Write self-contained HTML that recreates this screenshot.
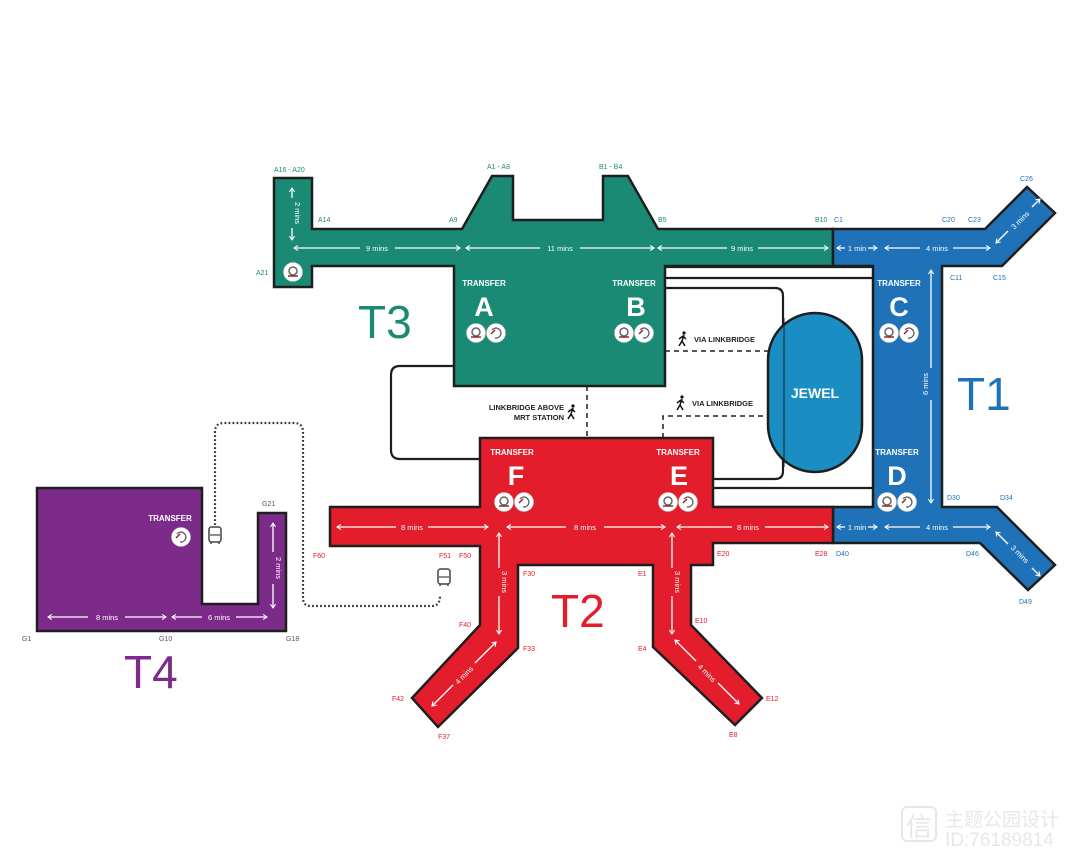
<!DOCTYPE html>
<html><head><meta charset="utf-8"><style>
html,body{margin:0;padding:0;background:#fff;}
svg{display:block;font-family:"Liberation Sans","Noto Sans CJK SC",sans-serif;}
.g{fill:#1a8a74}.r{fill:#e31d2b}.b{fill:#1f72b8}.p{fill:#7d2b8b}
.o{stroke:#1e1e1e;stroke-width:2.5;stroke-linejoin:miter}
.lg{fill:#1a8a74;font-size:7px}.lr{fill:#e31d2b;font-size:7px}.lb{fill:#1f72b8;font-size:7px}.lp{fill:#6a4a70;font-size:7px}
.m{fill:#fff;font-size:7.5px}
.a{stroke:#fff;stroke-width:1.3;fill:none;marker-start:url(#ah);marker-end:url(#ah)}
.tr{fill:#fff;font-size:8px;font-weight:bold}
.big{fill:#fff;font-size:27px;font-weight:bold}
.ic{fill:#fff;stroke:#ccc;stroke-width:.6}
</style></head><body>
<svg width="1080" height="857" viewBox="0 0 1080 857">
<defs>
<marker id="ah" viewBox="0 0 10 10" refX="8" refY="5" markerWidth="5" markerHeight="5" orient="auto-start-reverse"><path d="M2,1 L8,5 L2,9" fill="none" stroke="#fff" stroke-width="1.6"/></marker>
<g id="i1"><circle r="9.5" class="ic"/><circle r="4" cy="-1" fill="none" stroke="#666" stroke-width="1.5"/><path d="M-5,4 L5,4" stroke="#8a2a2a" stroke-width="1.5"/></g>
<g id="i2"><circle r="9.5" class="ic"/><path d="M-4,-3 A5,5 0 1 1 -1,5" fill="none" stroke="#666" stroke-width="1.4"/><path d="M-5,1 L-1,-3" stroke="#8a2a2a" stroke-width="1.5"/></g>
<g id="bus"><rect x="-6" y="-8" width="12" height="15" rx="2.5" fill="#fff" stroke="#444" stroke-width="1.5"/><line x1="-5" y1="0" x2="5" y2="0" stroke="#444" stroke-width="1.2"/><line x1="-4" y1="7" x2="-4" y2="9" stroke="#444" stroke-width="1.5"/><line x1="4" y1="7" x2="4" y2="9" stroke="#444" stroke-width="1.5"/></g>
<g id="walk"><circle cx="1" cy="-6" r="1.6" fill="#111"/><path d="M1,-4 L-1,2 L-4,7 M-1,2 L2,7 M0,-3 L-4,0 M0,-3 L3,0" stroke="#111" stroke-width="1.5" fill="none"/></g>
</defs>

<!-- connector lines -->
<g fill="none" stroke="#1e1e1e" stroke-width="2.2">
<path d="M665,267 H873 M665,278 H873 M713,488 H873 M713,507 H833"/>
<path d="M665,288 H775 Q783,288 783,296 V471 Q783,479 775,479 H713"/>
<path d="M454,366 H400 Q391,366 391,375 V450 Q391,459 400,459 H480"/>
</g>
<g fill="none" stroke="#1e1e1e" stroke-width="1.5" stroke-dasharray="5,4">
<path d="M665,351 H770 M663,438 V416 H770 M587,386 V438"/>
</g>
<path d="M215,525 V432 Q215,423 224,423 H294 Q303,423 303,432 V598 Q303,606 311,606 H432 Q440,606 440,596" fill="none" stroke="#333" stroke-width="2.2" stroke-dasharray="1.8,2.2"/>

<!-- T3 -->
<path class="g o" d="M274,178 H312 V229 H462 L492,176 H513 V220 H603 V176 H628 L658,229 H833 V266 H665 V386 H454 V266 H312 V287 H274 Z"/>
<!-- T1 -->
<path class="b o" d="M833,229 H985 L1027,187 L1055,213 L1002,266 H942 V507 H997 L1055,565 L1028,590 L980,543 H833 V507 H873 V266 H833 Z"/>
<!-- T2 -->
<path class="r o" d="M480,438 H713 V507 H833 V543 H713 V565 H691 V625 L762,698 L735,725 L653,647 V565 H518 V648 L438,727 L412,698 L480,625 V546 H330 V507 H480 Z"/>
<!-- T4 -->
<path class="p o" d="M37,488 H202 V604 H258 V513 H286 V631 H37 Z"/>
<!-- Jewel -->
<rect x="768" y="313" width="94" height="159" rx="47" fill="#1a8ec2" stroke="#1e1e1e" stroke-width="2.5"/>
<line x1="784" y1="318" x2="784" y2="467" stroke="#1e1e1e" stroke-width="1"/>
<text x="815" y="398" fill="#fff" font-size="14" font-weight="bold" text-anchor="middle">JEWEL</text>

<!-- big labels -->
<text x="358" y="338" fill="#1a8a74" font-size="46">T3</text>
<text x="957" y="410" fill="#1f72b8" font-size="46">T1</text>
<text x="551" y="627" fill="#e31d2b" font-size="46">T2</text>
<text x="124" y="688" fill="#7d2b8b" font-size="46">T4</text>

<!-- transfer blocks -->
<g text-anchor="middle">
<text class="tr" x="484" y="286">TRANSFER</text><text class="big" x="484" y="316">A</text>
<text class="tr" x="634" y="286">TRANSFER</text><text class="big" x="636" y="316">B</text>
<text class="tr" x="899" y="286">TRANSFER</text><text class="big" x="899" y="316">C</text>
<text class="tr" x="897" y="455">TRANSFER</text><text class="big" x="897" y="485">D</text>
<text class="tr" x="512" y="455">TRANSFER</text><text class="big" x="516" y="485">F</text>
<text class="tr" x="678" y="455">TRANSFER</text><text class="big" x="679" y="485">E</text>
<text class="tr" x="170" y="521">TRANSFER</text>
</g>
<use href="#i1" x="476" y="333"/><use href="#i2" x="496" y="333"/>
<use href="#i1" x="624" y="333"/><use href="#i2" x="644" y="333"/>
<use href="#i1" x="889" y="333"/><use href="#i2" x="909" y="333"/>
<use href="#i1" x="887" y="502"/><use href="#i2" x="907" y="502"/>
<use href="#i1" x="504" y="502"/><use href="#i2" x="524" y="502"/>
<use href="#i1" x="668" y="502"/><use href="#i2" x="688" y="502"/>
<use href="#i1" x="293" y="272"/>
<use href="#i2" x="181" y="537"/>
<use href="#bus" x="215" y="535"/><use href="#bus" x="444" y="577"/>

<!-- walk labels -->
<use href="#walk" x="683" y="339"/><text x="694" y="342" fill="#222" font-size="7.5" font-weight="bold">VIA LINKBRIDGE</text>
<use href="#walk" x="681" y="403"/><text x="692" y="406" fill="#222" font-size="7.5" font-weight="bold">VIA LINKBRIDGE</text>
<use href="#walk" x="572" y="412"/>
<text x="564" y="410" fill="#222" font-size="7.5" font-weight="bold" text-anchor="end">LINKBRIDGE ABOVE</text>
<text x="564" y="420" fill="#222" font-size="7.5" font-weight="bold" text-anchor="end">MRT STATION</text>

<!-- arrows -->
<g>
<line class="a" x1="294" y1="248" x2="360" y2="248" style="marker-end:none"/><line class="a" x1="395" y1="248" x2="460" y2="248" style="marker-start:none"/>
<line class="a" x1="466" y1="248" x2="540" y2="248" style="marker-end:none"/><line class="a" x1="580" y1="248" x2="654" y2="248" style="marker-start:none"/>
<line class="a" x1="658" y1="248" x2="727" y2="248" style="marker-end:none"/><line class="a" x1="758" y1="248" x2="828" y2="248" style="marker-start:none"/>
<line class="a" x1="837" y1="248" x2="845" y2="248" style="marker-end:none"/><line class="a" x1="868" y1="248" x2="877" y2="248" style="marker-start:none"/>
<line class="a" x1="885" y1="248" x2="920" y2="248" style="marker-end:none"/><line class="a" x1="953" y1="248" x2="990" y2="248" style="marker-start:none"/>
<line class="a" x1="337" y1="527" x2="396" y2="527" style="marker-end:none"/><line class="a" x1="428" y1="527" x2="488" y2="527" style="marker-start:none"/>
<line class="a" x1="507" y1="527" x2="566" y2="527" style="marker-end:none"/><line class="a" x1="604" y1="527" x2="665" y2="527" style="marker-start:none"/>
<line class="a" x1="677" y1="527" x2="732" y2="527" style="marker-end:none"/><line class="a" x1="765" y1="527" x2="828" y2="527" style="marker-start:none"/>
<line class="a" x1="837" y1="527" x2="845" y2="527" style="marker-end:none"/><line class="a" x1="868" y1="527" x2="877" y2="527" style="marker-start:none"/>
<line class="a" x1="885" y1="527" x2="920" y2="527" style="marker-end:none"/><line class="a" x1="953" y1="527" x2="990" y2="527" style="marker-start:none"/>
<line class="a" x1="48" y1="617" x2="88" y2="617" style="marker-end:none"/><line class="a" x1="125" y1="617" x2="166" y2="617" style="marker-start:none"/>
<line class="a" x1="172" y1="617" x2="202" y2="617" style="marker-end:none"/><line class="a" x1="236" y1="617" x2="267" y2="617" style="marker-start:none"/>
<line class="a" x1="292" y1="188" x2="292" y2="198" style="marker-end:none"/><line class="a" x1="292" y1="228" x2="292" y2="240" style="marker-start:none"/>
<line class="a" x1="931" y1="270" x2="931" y2="368" style="marker-end:none"/><line class="a" x1="931" y1="400" x2="931" y2="503" style="marker-start:none"/>
<line class="a" x1="499" y1="533" x2="499" y2="568" style="marker-end:none"/><line class="a" x1="499" y1="596" x2="499" y2="634" style="marker-start:none"/>
<line class="a" x1="672" y1="533" x2="672" y2="568" style="marker-end:none"/><line class="a" x1="672" y1="596" x2="672" y2="634" style="marker-start:none"/>
<line class="a" x1="273" y1="523" x2="273" y2="552" style="marker-end:none"/><line class="a" x1="273" y1="584" x2="273" y2="608" style="marker-start:none"/>
<line class="a" x1="996" y1="243" x2="1008" y2="231" style="marker-end:none"/><line class="a" x1="1032" y1="207" x2="1040" y2="199" style="marker-start:none"/>
<line class="a" x1="996" y1="532" x2="1008" y2="544" style="marker-end:none"/><line class="a" x1="1032" y1="568" x2="1040" y2="576" style="marker-start:none"/>
<line class="a" x1="432" y1="706" x2="453" y2="685" style="marker-end:none"/><line class="a" x1="475" y1="663" x2="496" y2="642" style="marker-start:none"/>
<line class="a" x1="675" y1="640" x2="696" y2="661" style="marker-end:none"/><line class="a" x1="718" y1="683" x2="739" y2="704" style="marker-start:none"/>
</g>
<g class="m" text-anchor="middle">
<text x="377" y="251">9 mins</text><text x="560" y="251">11 mins</text><text x="742" y="251">9 mins</text>
<text x="857" y="251">1 min</text><text x="937" y="251">4 mins</text>
<text x="412" y="530">8 mins</text><text x="585" y="530">8 mins</text><text x="748" y="530">8 mins</text>
<text x="857" y="530">1 min</text><text x="937" y="530">4 mins</text>
<text x="107" y="620">8 mins</text><text x="219" y="620">6 mins</text>
<text transform="translate(295,213) rotate(90)">2 mins</text>
<text transform="translate(928,384) rotate(-90)">6 mins</text>
<text transform="translate(502,582) rotate(90)">3 mins</text>
<text transform="translate(675,582) rotate(90)">3 mins</text>
<text transform="translate(276,568) rotate(90)">2 mins</text>
<text transform="translate(1022,222) rotate(-45)">3 mins</text>
<text transform="translate(1018,556) rotate(45)">3 mins</text>
<text transform="translate(466,677) rotate(-45)">4 mins</text>
<text transform="translate(705,675) rotate(45)">4 mins</text>
</g>

<!-- gate labels -->
<g class="lg"><text x="274" y="172">A16 - A20</text><text x="487" y="169">A1 - A8</text><text x="599" y="169">B1 - B4</text>
<text x="318" y="222">A14</text><text x="449" y="222">A9</text><text x="658" y="222">B5</text><text x="815" y="222">B10</text><text x="256" y="275">A21</text></g>
<g class="lb"><text x="834" y="222">C1</text><text x="942" y="222">C20</text><text x="968" y="222">C23</text><text x="1020" y="181">C26</text>
<text x="950" y="280">C11</text><text x="993" y="280">C15</text><text x="947" y="500">D30</text><text x="1000" y="500">D34</text>
<text x="836" y="556">D40</text><text x="966" y="556">D46</text><text x="1019" y="604">D49</text></g>
<g class="lr"><text x="313" y="558">F60</text><text x="439" y="558">F51</text><text x="459" y="558">F50</text>
<text x="523" y="576">F30</text><text x="638" y="576">E1</text><text x="717" y="556">E20</text><text x="815" y="556">E28</text>
<text x="459" y="627">F40</text><text x="523" y="651">F33</text><text x="638" y="651">E4</text><text x="695" y="623">E10</text>
<text x="392" y="701">F42</text><text x="438" y="739">F37</text><text x="766" y="701">E12</text><text x="729" y="737">E8</text></g>
<g class="lp"><text x="262" y="506">G21</text><text x="22" y="641">G1</text><text x="159" y="641">G10</text><text x="286" y="641">G18</text></g>

<!-- watermark -->
<g opacity="0.45">
<rect x="902" y="807" width="34" height="34" rx="5" fill="none" stroke="#ccc" stroke-width="2"/>
<text x="906" y="836" fill="#ccc" font-size="26">信</text>
<text x="945" y="826" fill="#ccc" font-size="19">主题公园设计</text>
<text x="945" y="846" fill="#ccc" font-size="19">ID:76189814</text>
</g>
</svg>
</body></html>
